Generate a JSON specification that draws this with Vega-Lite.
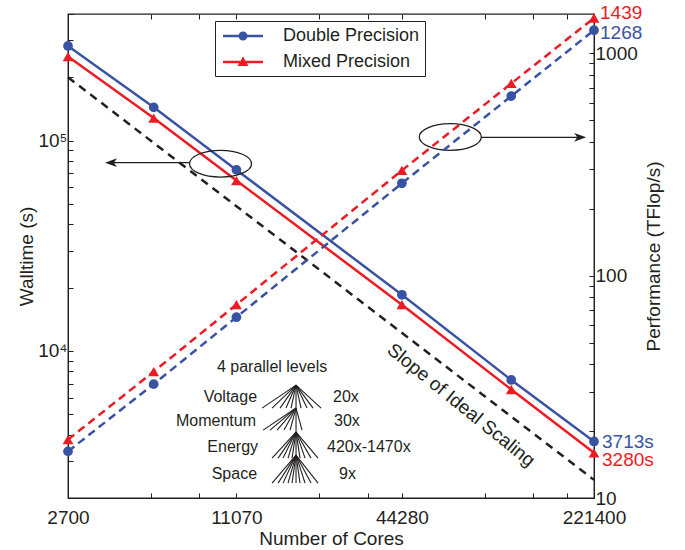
{
 "$schema": "https://vega.github.io/schema/vega-lite/v6.json",
 "width": 526, "height": 484,
 "autosize": {"type": "none"},
 "padding": {"left": 68, "top": 14, "right": 91, "bottom": 52},
 "background": "white",
 "config": {
  "view": {"stroke": "#231f20", "strokeWidth": 1.3},
  "font": "Liberation Sans",
  "axis": {"labelFont": "Liberation Sans", "titleFont": "Liberation Sans", "labelFontSize": 19, "titleFontSize": 19, "titleFontWeight": "normal", "labelColor": "#231f20", "titleColor": "#231f20", "tickColor": "#231f20", "domainColor": "#231f20", "grid": false, "tickSize": -5, "tickWidth": 1, "labelOverlap": false, "labelFlush": false, "labelBound": false}
 },
 "datasets": {
  "main": [
   {"series": "Double Precision", "cores": 2700, "walltime": 282000, "perf": 16.2},
   {"series": "Double Precision", "cores": 5535, "walltime": 144000, "perf": 32.5},
   {"series": "Double Precision", "cores": 11070, "walltime": 72600, "perf": 65},
   {"series": "Double Precision", "cores": 44280, "walltime": 18500, "perf": 260},
   {"series": "Double Precision", "cores": 110700, "walltime": 7280, "perf": 641},
   {"series": "Double Precision", "cores": 221400, "walltime": 3713, "perf": 1268},
   {"series": "Mixed Precision", "cores": 2700, "walltime": 251000, "perf": 18.3},
   {"series": "Mixed Precision", "cores": 5535, "walltime": 128000, "perf": 37},
   {"series": "Mixed Precision", "cores": 11070, "walltime": 64600, "perf": 74},
   {"series": "Mixed Precision", "cores": 44280, "walltime": 16600, "perf": 297},
   {"series": "Mixed Precision", "cores": 110700, "walltime": 6560, "perf": 731},
   {"series": "Mixed Precision", "cores": 221400, "walltime": 3280, "perf": 1439}
  ],
  "ideal": [
   {"cores": 2700, "walltime": 200000},
   {"cores": 221400, "walltime": 2439}
  ],
  "tree": [
   {"cores": 18240, "walltime": 6884, "cores2": 18240, "walltime2": 2354},
   {"cores": 18240, "walltime": 6884, "cores2": 13723, "walltime2": 5352},
   {"cores": 18240, "walltime": 6884, "cores2": 14921, "walltime2": 5352},
   {"cores": 18240, "walltime": 6884, "cores2": 15955, "walltime2": 5352},
   {"cores": 18240, "walltime": 6884, "cores2": 16775, "walltime2": 5352},
   {"cores": 18240, "walltime": 6884, "cores2": 17493, "walltime2": 5352},
   {"cores": 18240, "walltime": 6884, "cores2": 19021, "walltime2": 5352},
   {"cores": 18240, "walltime": 6884, "cores2": 20002, "walltime2": 5352},
   {"cores": 18240, "walltime": 6884, "cores2": 21034, "walltime2": 5352},
   {"cores": 18240, "walltime": 6884, "cores2": 22493, "walltime2": 5352},
   {"cores": 18240, "walltime": 5352, "cores2": 13838, "walltime2": 4206},
   {"cores": 18240, "walltime": 5352, "cores2": 14673, "walltime2": 4206},
   {"cores": 18240, "walltime": 5352, "cores2": 15558, "walltime2": 4206},
   {"cores": 18240, "walltime": 5352, "cores2": 16498, "walltime2": 4206},
   {"cores": 18240, "walltime": 5352, "cores2": 17347, "walltime2": 4206},
   {"cores": 18240, "walltime": 5352, "cores2": 19181, "walltime2": 4206},
   {"cores": 18240, "walltime": 4115, "cores2": 14921, "walltime2": 3095},
   {"cores": 18240, "walltime": 4115, "cores2": 15689, "walltime2": 3095},
   {"cores": 18240, "walltime": 4115, "cores2": 16361, "walltime2": 3095},
   {"cores": 18240, "walltime": 4115, "cores2": 17058, "walltime2": 3095},
   {"cores": 18240, "walltime": 4115, "cores2": 17640, "walltime2": 3095},
   {"cores": 18240, "walltime": 4115, "cores2": 18862, "walltime2": 3095},
   {"cores": 18240, "walltime": 4115, "cores2": 19670, "walltime2": 3095},
   {"cores": 18240, "walltime": 4115, "cores2": 20684, "walltime2": 3095},
   {"cores": 18240, "walltime": 4115, "cores2": 21934, "walltime2": 3095},
   {"cores": 18240, "walltime": 3199, "cores2": 14921, "walltime2": 2354},
   {"cores": 18240, "walltime": 3199, "cores2": 15689, "walltime2": 2354},
   {"cores": 18240, "walltime": 3199, "cores2": 16361, "walltime2": 2354},
   {"cores": 18240, "walltime": 3199, "cores2": 17058, "walltime2": 2354},
   {"cores": 18240, "walltime": 3199, "cores2": 17640, "walltime2": 2354},
   {"cores": 18240, "walltime": 3199, "cores2": 18862, "walltime2": 2354},
   {"cores": 18240, "walltime": 3199, "cores2": 19670, "walltime2": 2354},
   {"cores": 18240, "walltime": 3199, "cores2": 20684, "walltime2": 2354},
   {"cores": 18240, "walltime": 3199, "cores2": 21934, "walltime2": 2354}
  ],
  "ann": [
   {"grp": "c", "t": "4 parallel levels", "cores": 14921, "walltime": 8381},
   {"grp": "r", "t": "Voltage", "cores": 13159, "walltime": 6036},
   {"grp": "r", "t": "Momentum", "cores": 13049, "walltime": 4641},
   {"grp": "r", "t": "Energy", "cores": 13270, "walltime": 3491},
   {"grp": "r", "t": "Space", "cores": 13159, "walltime": 2598},
   {"grp": "l", "t": "20x", "cores": 24874, "walltime": 6036},
   {"grp": "l", "t": "30x", "cores": 25083, "walltime": 4641},
   {"grp": "l", "t": "420x-1470x", "cores": 23650, "walltime": 3491},
   {"grp": "l", "t": "9x", "cores": 26155, "walltime": 2598},
   {"grp": "s", "t": "Slope of Ideal Scaling", "cores": 72700, "walltime": 5530},
   {"grp": "dp", "t": "3713s", "cores": 221400, "walltime": 3713},
   {"grp": "mp", "t": "3280s", "cores": 221400, "walltime": 3280}
  ],
  "ell": [
   {"cores": 9691, "walltime": 77690},
   {"cores": 66410, "walltime": 104020}
  ],
  "arrows": [
   {"cores": 7441, "cores2": 3900, "walltime": 78540},
   {"cores": 85980, "cores2": 200000, "walltime": 103680}
  ],
  "heads": [
   {"dir": "L", "cores": 3681, "walltime": 78540},
   {"dir": "R", "cores": 207240, "walltime": 103680}
  ]
 },
 "layer": [
  {
   "encoding": {
    "x": {"field": "cores", "type": "quantitative",
     "scale": {"type": "log", "domain": [2700, 221400], "nice": false},
     "axis": {"orient": "bottom", "title": "Number of Cores", "format": "d",
      "values": [2700, 5400, 8100, 11070, 22140, 33210, 44280, 88560, 132840, 177120, 221400],
      "labelExpr": "(datum.value == 2700 || datum.value == 11070 || datum.value == 44280 || datum.value == 221400) ? datum.label : ''",
      "labelPadding": 15, "titlePadding": 2}},
    "y": {"field": "walltime", "type": "quantitative",
     "scale": {"type": "log", "domain": [2000, 400000], "nice": false},
     "axis": {"orient": "left", "title": "Walltime (s)",
      "values": [2000, 3000, 4000, 5000, 6000, 7000, 8000, 9000, 10000, 20000, 30000, 40000, 50000, 60000, 70000, 80000, 90000, 100000, 200000, 300000, 400000],
      "labelExpr": "datum.value == 10000 ? '10⁴' : datum.value == 100000 ? '10⁵' : ''",
      "labelPadding": 6, "titlePadding": 1}}
   },
   "layer": [
    {"data": {"name": "ideal"}, "mark": {"type": "line", "color": "#231f20", "strokeDash": [8, 6], "strokeWidth": 2.5}},
    {"data": {"name": "main"}, "transform": [{"filter": "datum.series == 'Double Precision'"}],
     "mark": {"type": "line", "color": "#3953a4", "strokeWidth": 2.5}},
    {"data": {"name": "main"}, "transform": [{"filter": "datum.series == 'Mixed Precision'"}],
     "mark": {"type": "line", "color": "#ed1c24", "strokeWidth": 2.5}},
    {"data": {"name": "main"}, "transform": [{"filter": "datum.series == 'Double Precision'"}],
     "mark": {"type": "point", "shape": "circle", "filled": true, "opacity": 1, "size": 95, "color": "#3953a4"}},
    {"data": {"name": "main"}, "transform": [{"filter": "datum.series == 'Mixed Precision'"}],
     "mark": {"type": "point", "shape": "triangle-up", "filled": true, "opacity": 1, "size": 115, "color": "#ed1c24"}},
    {"data": {"name": "main"}, "transform": [{"filter": "datum.walltime < 0"}],
     "mark": {"type": "point", "filled": true, "opacity": 1},
     "encoding": {
      "color": {"field": "series", "type": "nominal",
       "scale": {"domain": ["Double Precision", "Mixed Precision"], "range": ["#3953a4", "#ed1c24"]},
       "legend": {"title": null, "orient": "none", "legendX": 147, "legendY": 7, "direction": "vertical", "symbolSize": 400, "symbolOffset": 13, "labelOffset": 30, "labelFontSize": 18, "labelFont": "Liberation Sans", "labelColor": "#231f20", "padding": 5, "rowPadding": 7, "strokeColor": "#231f20", "fillColor": "white", "symbolStrokeWidth": 0}},
      "shape": {"field": "series", "type": "nominal",
       "scale": {"domain": ["Double Precision", "Mixed Precision"],
        "range": ["M-2,-0.12L-0.3,-0.12L-0.3,0.12L-2,0.12ZM0.3,-0.12L2,-0.12L2,0.12L0.3,0.12ZM0.45,0A0.45,0.45,0,1,1,-0.45,0A0.45,0.45,0,1,1,0.45,0Z",
                  "M-2,-0.12L-0.3,-0.12L-0.3,0.12L-2,0.12ZM0.3,-0.12L2,-0.12L2,0.12L0.3,0.12ZM0,-0.55L0.55,0.4L-0.55,0.4Z"]},
       "legend": {"title": null, "orient": "none", "legendX": 147, "legendY": 7, "direction": "vertical", "symbolSize": 400, "symbolOffset": 13, "labelOffset": 30, "labelFontSize": 18, "labelFont": "Liberation Sans", "labelColor": "#231f20", "padding": 5, "rowPadding": 7, "strokeColor": "#231f20", "fillColor": "white", "symbolStrokeWidth": 0}}
     }},
    {"data": {"name": "tree"}, "mark": {"type": "rule", "color": "#231f20", "strokeWidth": 1.1},
     "encoding": {"x2": {"field": "cores2"}, "y2": {"field": "walltime2"}}},
    {"data": {"name": "ann"}, "transform": [{"filter": "datum.grp == 'c'"}],
     "mark": {"type": "text", "align": "center", "baseline": "middle", "fontSize": 16, "color": "#231f20"},
     "encoding": {"text": {"field": "t"}}},
    {"data": {"name": "ann"}, "transform": [{"filter": "datum.grp == 'r'"}],
     "mark": {"type": "text", "align": "right", "baseline": "middle", "fontSize": 16, "color": "#231f20"},
     "encoding": {"text": {"field": "t"}}},
    {"data": {"name": "ann"}, "transform": [{"filter": "datum.grp == 'l'"}],
     "mark": {"type": "text", "align": "left", "baseline": "middle", "fontSize": 16, "color": "#231f20"},
     "encoding": {"text": {"field": "t"}}},
    {"data": {"name": "ann"}, "transform": [{"filter": "datum.grp == 's'"}],
     "mark": {"type": "text", "align": "center", "baseline": "middle", "fontSize": 19, "angle": 39, "color": "#231f20"},
     "encoding": {"text": {"field": "t"}}},
    {"data": {"name": "ann"}, "transform": [{"filter": "datum.grp == 'dp'"}],
     "mark": {"type": "text", "align": "left", "baseline": "middle", "fontSize": 19, "dx": 8, "dy": 1, "color": "#3953a4"},
     "encoding": {"text": {"field": "t"}}},
    {"data": {"name": "ann"}, "transform": [{"filter": "datum.grp == 'mp'"}],
     "mark": {"type": "text", "align": "left", "baseline": "middle", "fontSize": 19, "dx": 8, "dy": 7, "color": "#ed1c24"},
     "encoding": {"text": {"field": "t"}}},
    {"data": {"name": "ell"},
     "mark": {"type": "point", "shape": "M1,0A1,0.43,0,1,1,-1,0A1,0.43,0,1,1,1,0Z", "filled": false, "opacity": 1, "size": 3844, "strokeWidth": 1.3, "color": "#231f20"}},
    {"data": {"name": "arrows"}, "mark": {"type": "rule", "color": "#231f20", "strokeWidth": 1.3},
     "encoding": {"x2": {"field": "cores2"}}},
    {"data": {"name": "heads"}, "transform": [{"filter": "datum.dir == 'L'"}],
     "mark": {"type": "point", "shape": "M0,0L1.5,-0.55L1.1,0L1.5,0.55Z", "filled": true, "opacity": 1, "size": 256, "color": "#231f20"}},
    {"data": {"name": "heads"}, "transform": [{"filter": "datum.dir == 'R'"}],
     "mark": {"type": "point", "shape": "M0,0L-1.5,-0.55L-1.1,0L-1.5,0.55Z", "filled": true, "opacity": 1, "size": 256, "color": "#231f20"}}
   ]
  },
  {
   "data": {"name": "main"},
   "encoding": {
    "x": {"field": "cores", "type": "quantitative",
     "scale": {"type": "log", "domain": [2700, 221400], "nice": false},
     "axis": {"orient": "top", "title": null, "labels": false, "domain": false,
      "values": [2700, 5400, 8100, 11070, 22140, 33210, 44280, 88560, 132840, 177120, 221400]}},
    "y": {"field": "perf", "type": "quantitative",
     "scale": {"type": "log", "domain": [10, 1500], "nice": false},
     "axis": {"orient": "right", "title": "Performance (TFlop/s)", "format": "d",
      "values": [10, 20, 30, 40, 50, 60, 70, 80, 90, 100, 200, 300, 400, 500, 600, 700, 800, 900, 1000],
      "labelExpr": "(datum.value == 10 || datum.value == 100 || datum.value == 1000) ? datum.label : ''",
      "labelPadding": 6, "titlePadding": 26, "titleAngle": 270}}
   },
   "layer": [
    {"transform": [{"filter": "datum.series == 'Double Precision'"}],
     "mark": {"type": "line", "color": "#3953a4", "strokeWidth": 2.5, "strokeDash": [8, 5]}},
    {"transform": [{"filter": "datum.series == 'Mixed Precision'"}],
     "mark": {"type": "line", "color": "#ed1c24", "strokeWidth": 2.5, "strokeDash": [8, 5]}},
    {"transform": [{"filter": "datum.series == 'Double Precision'"}],
     "mark": {"type": "point", "shape": "circle", "filled": true, "opacity": 1, "size": 95, "color": "#3953a4"}},
    {"transform": [{"filter": "datum.series == 'Mixed Precision'"}],
     "mark": {"type": "point", "shape": "triangle-up", "filled": true, "opacity": 1, "size": 115, "color": "#ed1c24"}},
    {"transform": [{"filter": "datum.series == 'Double Precision' && datum.cores == 221400"}],
     "mark": {"type": "text", "align": "left", "baseline": "middle", "fontSize": 19, "dx": 6, "dy": 3, "color": "#3953a4"},
     "encoding": {"text": {"field": "perf"}}},
    {"transform": [{"filter": "datum.series == 'Mixed Precision' && datum.cores == 221400"}],
     "mark": {"type": "text", "align": "left", "baseline": "middle", "fontSize": 19, "dx": 6, "dy": -5, "color": "#ed1c24"},
     "encoding": {"text": {"field": "perf"}}}
   ]
  }
 ],
 "resolve": {"scale": {"y": "independent"}, "axis": {"x": "independent"}}
}
